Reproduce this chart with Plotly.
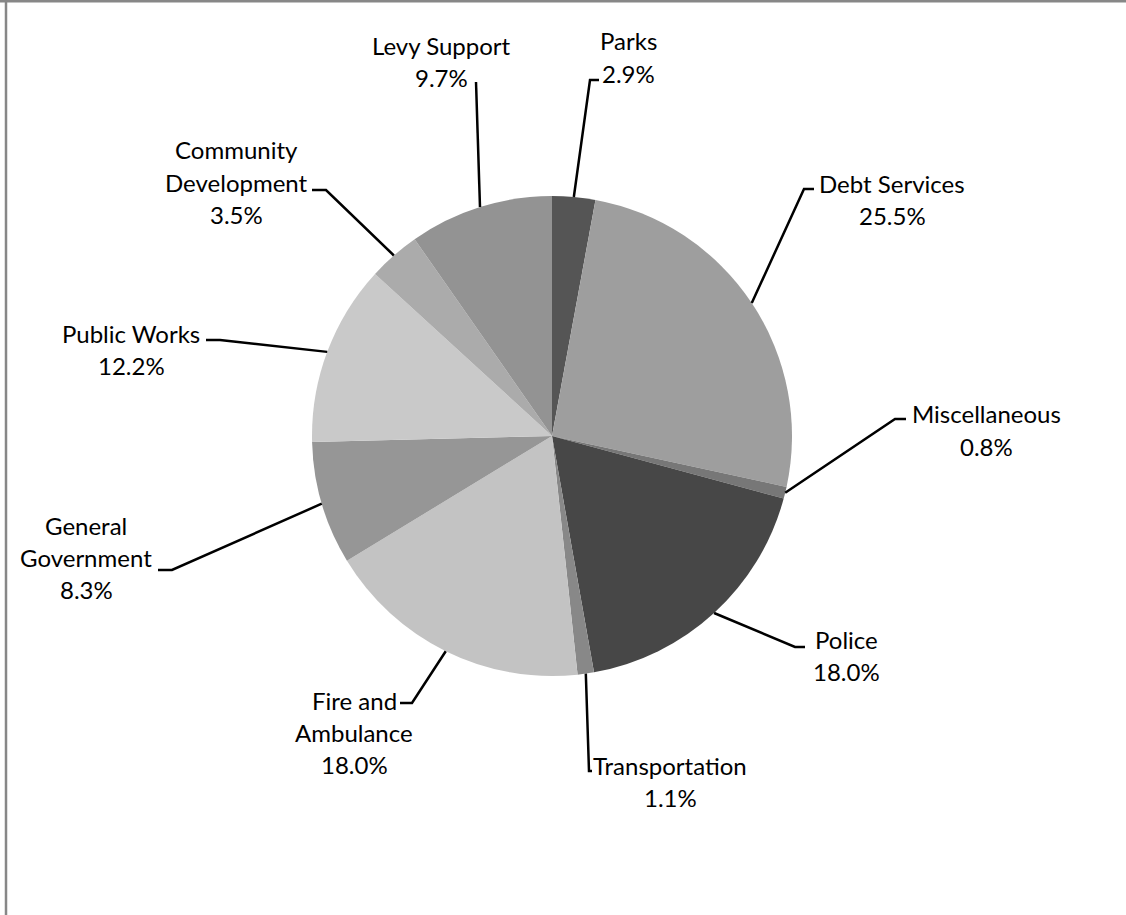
import math
import plotly.graph_objects as go

# ---- data ----
categories = ["Parks", "Debt Services", "Miscellaneous", "Police", "Transportation",
              "Fire and Ambulance", "General Government", "Public Works",
              "Community Development", "Levy Support"]
label_lines = [["Parks"], ["Debt Services"], ["Miscellaneous"], ["Police"], ["Transportation"],
               ["Fire and", "Ambulance"], ["General", "Government"], ["Public Works"],
               ["Community", "Development"], ["Levy Support"]]
shares = [2.9, 25.5, 0.8, 18.0, 1.1, 18.0, 8.3, 12.2, 3.5, 9.7]
colors = ["#555555", "#9e9e9e", "#777777", "#474747", "#888888",
          "#c3c3c3", "#969696", "#c9c9c9", "#ababab", "#939393"]

# ---- layout (pixels) ----
W, H = 1126, 915
CX, CY, R = 552, 436, 240
# label block centre (x, y of first line)
label_pos = [(628, 41), (892, 184), (986, 414), (846, 639), (670, 765),
             (354, 700), (86, 525), (131, 333), (236, 150), (441, 45)]
# leader elbow and end points
elbow_pos = [(590, 80), (804, 189), (895, 419), (795, 647), (589, 771),
             (412, 703), (172, 570), (220, 340), (326, 190), (476, 82)]
end_pos = [(599, 80), (814, 189), (906, 419), (805, 647), (592, 771),
           (400, 703), (158, 570), (206, 340), (312, 190), (476, 82)]
LINE_H = 32
FONT = "Lato"
FSIZE = 24


def px(x):
    return x / W


def py(y):
    return 1 - y / H


fig = go.Figure(go.Pie(
    labels=categories, values=shares, sort=False, direction="clockwise", rotation=0,
    marker=dict(colors=colors, line=dict(width=0)),
    textinfo="none", hoverinfo="label+percent",
    domain=dict(x=[px(CX - R), px(CX + R)], y=[py(CY + R), py(CY - R)]),
))

annotations = []
shapes = []
total = sum(shares)
cum = 0.0
for i, v in enumerate(shares):
    mid = (cum + v / 2) / total * 2 * math.pi
    cum += v
    ex = CX + R * math.sin(mid)
    ey = CY - R * math.cos(mid)
    (bx, by), (qx, qy) = elbow_pos[i], end_pos[i]
    path = f"M {px(ex)},{py(ey)} L {px(bx)},{py(by)} L {px(qx)},{py(qy)}"
    shapes.append(dict(type="path", xref="paper", yref="paper", path=path,
                       line=dict(color="black", width=2.5)))
    lx, ly = label_pos[i]
    lines = label_lines[i] + [f"{v / total * 100:.1f}%"]
    for k, t in enumerate(lines):
        annotations.append(dict(
            x=px(lx), y=py(ly + k * LINE_H), xref="paper", yref="paper",
            text=t, showarrow=False, xanchor="center", yanchor="middle",
            font=dict(family=FONT, size=FSIZE, color="black")))

# frame lines (top and left)
shapes.append(dict(type="line", xref="paper", yref="paper", x0=0, x1=1, y0=py(1), y1=py(1),
                   line=dict(color="#878787", width=3)))
shapes.append(dict(type="line", xref="paper", yref="paper", x0=px(6), x1=px(6), y0=0, y1=1,
                   line=dict(color="#878787", width=2.5)))

fig.update_layout(
    width=W, height=H, margin=dict(l=0, r=0, t=0, b=0),
    paper_bgcolor="white", plot_bgcolor="white", showlegend=False,
    annotations=annotations, shapes=shapes,
)
fig.write_html("out.html", config={"displayModeBar": False},
               post_script="document.body.style.margin='0';document.body.style.overflow='hidden';")
